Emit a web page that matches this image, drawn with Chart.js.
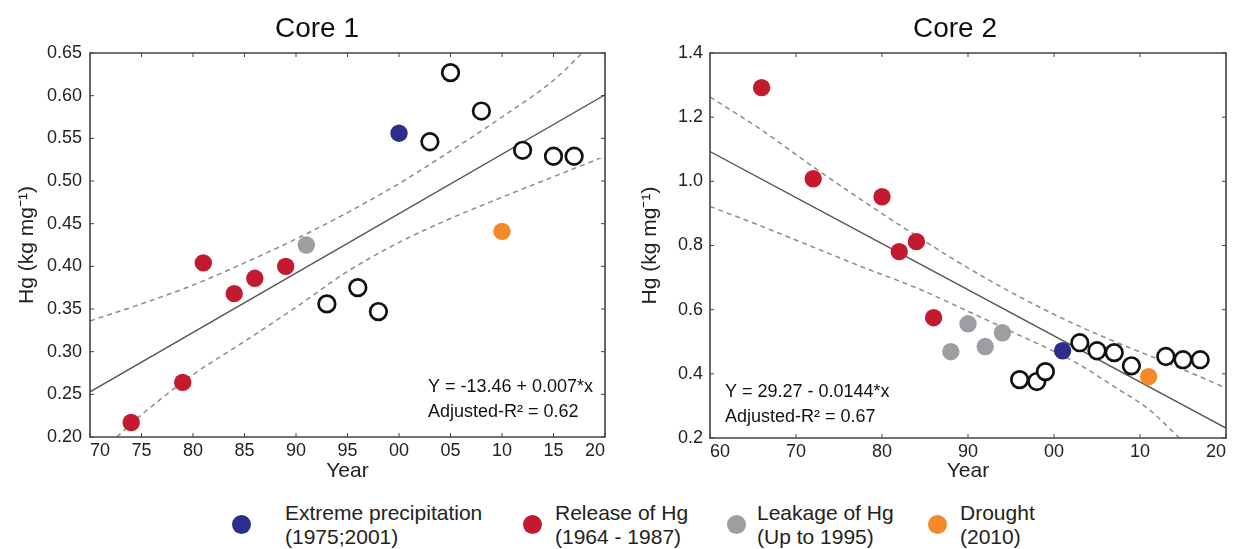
<!DOCTYPE html>
<html>
<head>
<meta charset="utf-8">
<script src="https://cdn.jsdelivr.net/npm/chart.js@4.4.1/dist/chart.umd.min.js"></script>
<style>
  body { margin: 0; background: #fff; width: 1237px; height: 549px; overflow: hidden; position: relative;
         font-family: "Liberation Sans", Arial, sans-serif; color: #222; }
  #core1 { position: absolute; left: 0; top: 0; }
  #core2 { position: absolute; left: 620px; top: 0; }
  .dot { position: absolute; width: 19px; height: 19px; border-radius: 50%; top: 515px; }
  .txt { position: absolute; top: 501px; font-size: 21px; line-height: 24px; white-space: nowrap; }
</style>
</head>
<body>
<canvas id="core1" width="634" height="495"></canvas>
<canvas id="core2" width="617" height="495"></canvas>

<div class="dot" style="left:232px;background:#2b2e8c"></div>
<div class="txt" style="left:285px">Extreme precipitation<br>(1975;2001)</div>
<div class="dot" style="left:523px;background:#c41a30"></div>
<div class="txt" style="left:555px">Release of Hg<br>(1964 - 1987)</div>
<div class="dot" style="left:727px;background:#9d9ea2"></div>
<div class="txt" style="left:757px">Leakage of Hg<br>(Up to 1995)</div>
<div class="dot" style="left:928px;background:#f4892a"></div>
<div class="txt" style="left:960px">Drought<br>(2010)</div>

<script>
// ---- Core 1 ----
const c1RedYears = [1974, 1979, 1981, 1984, 1986, 1989];
const c1RedHg = [0.217, 0.264, 0.404, 0.368, 0.386, 0.400];
const c1GrayYears = [1991];
const c1GrayHg = [0.425];
const c1BlueYears = [2000];
const c1BlueHg = [0.556];
const c1OrangeYears = [2010];
const c1OrangeHg = [0.441];
const c1OpenYears = [1993, 1996, 1998, 2003, 2005, 2008, 2012, 2015, 2017];
const c1OpenHg = [0.356, 0.375, 0.347, 0.546, 0.627, 0.582, 0.536, 0.529, 0.529];
const c1FitYears = [1970, 2020];
const c1FitHg = [0.253, 0.601];
const c1UpperYears = [1970, 1975, 1980, 1985, 1990, 1995, 2000, 2005, 2010, 2015, 2017.8];
const c1UpperHg = [0.336, 0.356, 0.378, 0.404, 0.432, 0.463, 0.497, 0.535, 0.575, 0.618, 0.650];
const c1LowerYears = [1972.6, 1975, 1980, 1985, 1990, 1995, 2000, 2005, 2010, 2015, 2020];
const c1LowerHg = [0.200, 0.226, 0.273, 0.312, 0.352, 0.394, 0.428, 0.456, 0.481, 0.505, 0.529];

// ---- Core 2 ----
const c2RedYears = [1966, 1972, 1980, 1982, 1984, 1986];
const c2RedHg = [1.292, 1.008, 0.952, 0.781, 0.812, 0.575];
const c2GrayYears = [1988, 1990, 1992, 1994];
const c2GrayHg = [0.469, 0.556, 0.485, 0.528];
const c2BlueYears = [2001];
const c2BlueHg = [0.472];
const c2OrangeYears = [2011];
const c2OrangeHg = [0.391];
const c2OpenYears = [1996, 1998, 1999, 2003, 2005, 2007, 2009, 2013, 2015, 2017];
const c2OpenHg = [0.382, 0.376, 0.407, 0.497, 0.472, 0.466, 0.425, 0.454, 0.444, 0.444];
const c2FitYears = [1960, 2020];
const c2FitHg = [1.093, 0.231];
const c2UpperYears = [1960, 1966, 1972, 1978, 1984, 1990, 1996, 2002, 2008, 2014, 2020];
const c2UpperHg = [1.263, 1.160, 1.045, 0.935, 0.830, 0.730, 0.640, 0.560, 0.490, 0.425, 0.356];
const c2LowerYears = [1960, 1966, 1972, 1978, 1984, 1990, 1996, 2000, 2003, 2007, 2011, 2014.6];
const c2LowerHg = [0.922, 0.860, 0.795, 0.730, 0.668, 0.595, 0.520, 0.470, 0.428, 0.360, 0.290, 0.200];

Chart.defaults.font.family = '"Liberation Sans", Arial, sans-serif';
Chart.defaults.color = '#222';

const toXY = (xs, ys) => xs.map((x, i) => ({ x: x, y: ys[i] }));
const dot = (xs, ys, color) => ({
  data: toXY(xs, ys), backgroundColor: color, borderColor: color,
  borderWidth: 0, pointRadius: 8.7, order: 0
});
const ring = (xs, ys) => ({
  data: toXY(xs, ys), backgroundColor: '#fff', borderColor: '#111',
  borderWidth: 2.7, pointRadius: 8.3, order: 0
});
const curve = (xs, ys, dashed) => ({
  data: toXY(xs, ys), showLine: true, pointRadius: 0,
  borderColor: dashed ? '#8c8c8c' : '#555', borderWidth: dashed ? 1.5 : 1.4,
  borderDash: dashed ? [5, 4] : [], cubicInterpolationMode: 'monotone', order: 1
});

// frame, inward ticks, panel title and regression note
const decor = {
  id: 'decor',
  afterDraw(chart, args, o) {
    const { ctx, chartArea: a, scales } = chart;
    ctx.save();
    ctx.setLineDash([]);
    ctx.strokeStyle = '#444';
    ctx.lineWidth = 1.6;
    ctx.beginPath();
    ctx.rect(a.left, a.top, a.right - a.left, a.bottom - a.top);
    ctx.stroke();
    ctx.lineWidth = 1;
    ctx.beginPath();
    scales.x.ticks.forEach(t => {
      const px = scales.x.getPixelForValue(t.value);
      ctx.moveTo(px, a.bottom); ctx.lineTo(px, a.bottom - 4);
      ctx.moveTo(px, a.top); ctx.lineTo(px, a.top + 4);
    });
    scales.y.ticks.forEach(t => {
      const py = scales.y.getPixelForValue(t.value);
      ctx.moveTo(a.left, py); ctx.lineTo(a.left + 4, py);
      ctx.moveTo(a.right, py); ctx.lineTo(a.right - 4, py);
    });
    ctx.stroke();

    ctx.fillStyle = '#111';
    ctx.textBaseline = 'middle';
    ctx.textAlign = 'center';
    ctx.font = '28px "Liberation Sans", Arial, sans-serif';
    ctx.fillText(o.title, o.titleX, 29);

    ctx.textAlign = 'left';
    ctx.font = '18px "Liberation Sans", Arial, sans-serif';
    const nx = o.noteFromRight ? a.right - o.noteX : a.left + o.noteX;
    ctx.fillText(o.notes[0], nx, a.bottom - o.noteY);
    ctx.fillText(o.notes[1], nx, a.bottom - o.noteY + 25);
    ctx.restore();
  }
};

const yearLabel = v => String(Math.round(v) % 100).padStart(2, '0');

function makeChart(id, cfg) {
  return new Chart(document.getElementById(id), {
    type: 'scatter',
    data: { datasets: cfg.datasets },
    options: {
      responsive: false,
      animation: false,
      events: [],
      layout: { padding: { top: 53, right: cfg.padRight, left: 0, bottom: 0 } },
      plugins: {
        legend: { display: false },
        tooltip: { enabled: false },
        decor: cfg.decor
      },
      scales: {
        x: {
          type: 'linear', min: cfg.xMin, max: cfg.xMax,
          grid: { display: false, drawTicks: false },
          border: { display: false },
          ticks: { stepSize: cfg.xStep, align: 'inner', padding: 3, maxRotation: 0,
                   font: { size: 18 }, callback: yearLabel },
          title: { display: true, text: 'Year', font: { size: 21 }, padding: { top: 0, bottom: 11 } },
          afterFit: s => { s.height = cfg.xHeight; }
        },
        y: {
          type: 'linear', min: cfg.yMin, max: cfg.yMax,
          grid: { display: false, drawTicks: false },
          border: { display: false },
          ticks: { stepSize: cfg.yStep, padding: cfg.yPad, font: { size: 18 },
                   callback: v => v.toFixed(cfg.yDigits) },
          title: { display: true, text: 'Hg (kg mg⁻¹)', font: { size: 21 }, padding: { top: cfg.yTitlePad, bottom: 0 } },
          afterFit: s => { s.width = 90; }
        }
      }
    },
    plugins: [decor]
  });
}

makeChart('core1', {
  datasets: [
    dot(c1BlueYears, c1BlueHg, '#2b2e8c'),
    dot(c1OrangeYears, c1OrangeHg, '#f4892a'),
    dot(c1GrayYears, c1GrayHg, '#9d9ea2'),
    dot(c1RedYears, c1RedHg, '#c41a30'),
    ring(c1OpenYears, c1OpenHg),
    curve(c1FitYears, c1FitHg, false),
    curve(c1UpperYears, c1UpperHg, true),
    curve(c1LowerYears, c1LowerHg, true)
  ],
  padRight: 29, xMin: 1970, xMax: 2020, xStep: 5, xHeight: 58,
  yMin: 0.2, yMax: 0.65, yStep: 0.05, yDigits: 2, yPad: 8, yTitlePad: 15,
  decor: {
    title: 'Core 1', titleX: 317,
    notes: ['Y = -13.46 + 0.007*x', 'Adjusted-R² = 0.62'],
    noteFromRight: true, noteX: 177, noteY: 50
  }
});

makeChart('core2', {
  datasets: [
    dot(c2BlueYears, c2BlueHg, '#2b2e8c'),
    dot(c2OrangeYears, c2OrangeHg, '#f4892a'),
    dot(c2GrayYears, c2GrayHg, '#9d9ea2'),
    dot(c2RedYears, c2RedHg, '#c41a30'),
    ring(c2OpenYears, c2OpenHg),
    curve(c2FitYears, c2FitHg, false),
    curve(c2UpperYears, c2UpperHg, true),
    curve(c2LowerYears, c2LowerHg, true)
  ],
  padRight: 6, xMin: 1960, xMax: 2020, xStep: 10, xHeight: 57,
  yMin: 0.2, yMax: 1.4, yStep: 0.2, yDigits: 1, yPad: 7, yTitlePad: 18,
  decor: {
    title: 'Core 2', titleX: 335,
    notes: ['Y = 29.27 - 0.0144*x', 'Adjusted-R² = 0.67'],
    noteFromRight: false, noteX: 15, noteY: 46
  }
});
</script>
</body>
</html>
